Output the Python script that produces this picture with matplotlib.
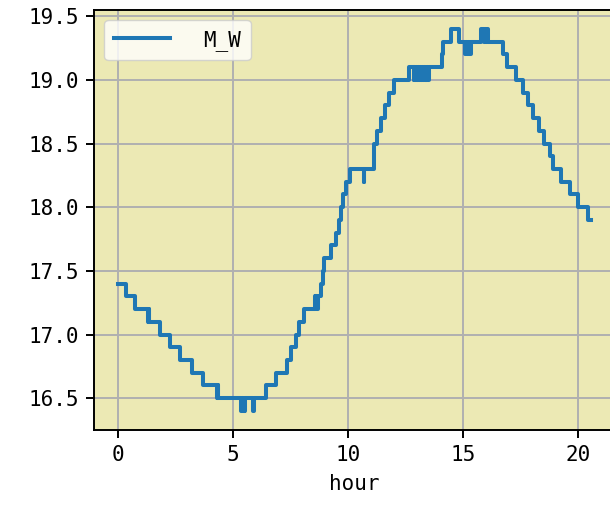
import matplotlib
matplotlib.use("Agg")
import matplotlib.pyplot as plt

plt.rcParams['font.family'] = ['DejaVu Sans Mono', 'Noto Sans CJK SC']

# change points of the temperature reading (steps-post)
hours = [0.00, 0.35, 0.76, 1.33, 1.35, 1.37, 1.83, 2.28, 2.72, 3.22, 3.70,
         4.33, 4.35, 4.38, 5.37, 5.41, 5.44, 5.48, 5.51, 5.55, 5.88, 5.91,
         6.46, 6.90, 7.34, 7.55, 7.74, 7.87, 8.10, 8.58, 8.61, 8.64, 8.67, 8.72,
         8.82, 8.91, 8.95, 9.26, 9.48, 9.62, 9.71, 9.80, 9.91, 10.10, 10.69, 10.72,
         11.12, 11.16, 11.27, 11.45, 11.60, 11.80, 12.02, 12.65,
         12.86, 12.90, 12.94, 12.98, 13.02, 13.06, 13.10, 13.14, 13.18, 13.22,
         13.26, 13.30, 13.34, 13.38, 13.42, 13.46, 13.49, 13.52,
         14.10, 14.13, 14.47, 14.83, 15.10, 15.15, 15.19, 15.24, 15.28, 15.34,
         15.78, 15.94, 15.98, 16.02, 16.06, 16.11, 16.75, 16.90, 17.31, 17.63,
         17.82, 18.03, 18.30, 18.55, 18.77, 18.94, 19.27, 19.64, 20.00, 20.44, 20.58]
m_w = [17.4, 17.3, 17.2, 17.1, 17.2, 17.1, 17.0, 16.9, 16.8, 16.7, 16.6,
       16.5, 16.6, 16.5, 16.4, 16.5, 16.4, 16.5, 16.4, 16.5, 16.4, 16.5,
       16.6, 16.7, 16.8, 16.9, 17.0, 17.1, 17.2, 17.3, 17.2, 17.3, 17.2, 17.3,
       17.4, 17.5, 17.6, 17.7, 17.8, 17.9, 18.0, 18.1, 18.2, 18.3, 18.2, 18.3,
       18.4, 18.5, 18.6, 18.7, 18.8, 18.9, 19.0, 19.1,
       19.0, 19.1, 19.0, 19.1, 19.0, 19.1, 19.0, 19.1, 19.0, 19.1,
       19.0, 19.1, 19.0, 19.1, 19.0, 19.1, 19.0, 19.1,
       19.2, 19.3, 19.4, 19.3, 19.2, 19.3, 19.2, 19.3, 19.2, 19.3,
       19.4, 19.3, 19.4, 19.3, 19.4, 19.3, 19.2, 19.1, 19.0, 18.9,
       18.8, 18.7, 18.6, 18.5, 18.4, 18.3, 18.2, 18.1, 18.0, 17.9, 17.9]

xticks = [0, 5, 10, 15, 20]
yticks = [16.5, 17.0, 17.5, 18.0, 18.5, 19.0, 19.5]

fig = plt.figure(figsize=(6.1, 5.2), dpi=100)
ax = fig.add_axes([0.154, 0.173, 0.854, 0.808])
ax.set_facecolor('#ece9b4')
ax.plot(hours, m_w, drawstyle='steps-post', color='#1f77b4', lw=2.9, label='M_W')
ax.grid(True, color='#b0b0b0', lw=1.4)
ax.set_axisbelow(True)
ax.set_xticks(xticks)
ax.set_yticks(yticks)
ax.set_yticklabels(['%.1f' % v for v in yticks])
ax.tick_params(labelsize=15, length=6, width=1.4, pad=5)
for s in ax.spines.values():
    s.set_linewidth(1.4)
ax.set_xlabel('hour', fontsize=15, labelpad=6)
ax.legend(loc='upper left', fontsize=15, handlelength=2.7, handletextpad=1.6,
          borderpad=0.45)

fig.savefig('out.png', dpi=100)
